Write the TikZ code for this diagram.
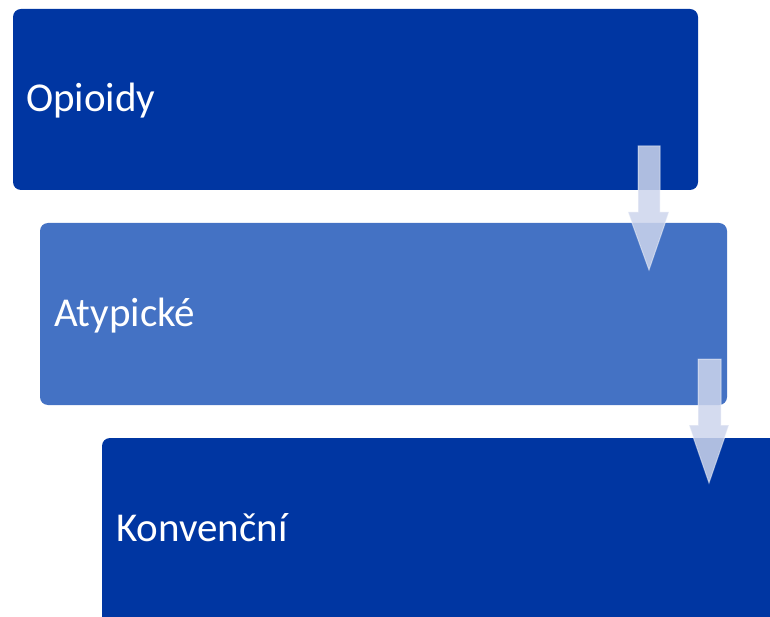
\documentclass[tikz,border=0pt]{standalone}
\usepackage{fontspec}
\setmainfont{Carlito}
\definecolor{darkbox}{RGB}{0,54,162}
\definecolor{midbox}{RGB}{68,114,196}
\definecolor{arrowfill}{RGB}{205,213,236}
\tikzset{
  stepbox/.style={rounded corners=8pt},
  boxlabel/.style={anchor=base west, text=white, font=\fontsize{41}{49}\selectfont, inner sep=0pt},
  downarrow/.style={fill=arrowfill, fill opacity=0.85, draw=white, draw opacity=0.45, line width=1pt}
}
\begin{document}
\begin{tikzpicture}[x=1pt,y=-1pt]
\useasboundingbox (0,0) rectangle (770,617);
\clip (0,0) rectangle (770,617);
% boxes
\fill[stepbox, darkbox] (13,9) rectangle (698,190);
\coordinate (b1) at (13,9);
\fill[stepbox, midbox] (40,223) rectangle (727,405);
\coordinate (b2) at (40,223);
\fill[stepbox, darkbox] (102,438) rectangle (800,660);
\coordinate (b3) at (102,438);
% labels
\node[boxlabel] (t1) at (26,112) {Opioidy};
\node[boxlabel] (t2) at (54,326) {Atypické};
\node[boxlabel] (t3) at (116,541) {Konvenční};
% arrows
\draw[downarrow] (638,146) -- (660,146) -- (660,212) -- (669,212) -- (649,270) -- (628,212) -- (638,212) -- cycle;
\draw[downarrow] (698,359) -- (721,359) -- (721,425) -- (729,425) -- (709,483) -- (689,425) -- (698,425) -- cycle;
\end{tikzpicture}
\end{document}
